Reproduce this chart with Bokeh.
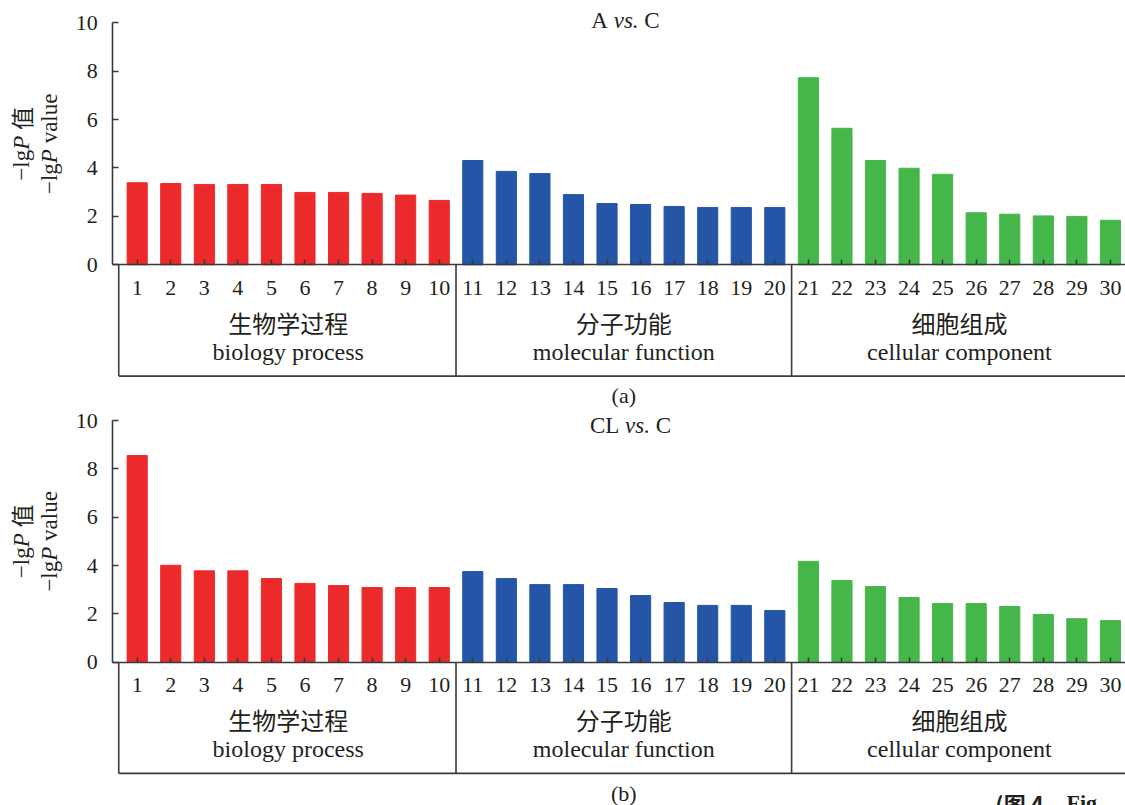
import math
from bokeh.plotting import figure
from bokeh.models import LinearAxis, FixedTicker, Range1d, Label, ColumnDataSource
from bokeh.layouts import column
from bokeh.embed import file_html
from bokeh.resources import INLINE

# ---------------- data ----------------
go_ids = [1, 2, 3, 4, 5, 6, 7, 8, 9, 10,
          11, 12, 13, 14, 15, 16, 17, 18, 19, 20,
          21, 22, 23, 24, 25, 26, 27, 28, 29, 30]
group_en = ["biology process", "molecular function", "cellular component"]
group_cn = ["生物学过程", "分子功能", "细胞组成"]
group_size = [10, 10, 10]
group_colors = ["#EC2A2B", "#2455A6", "#45B649"]

a_vs_c = [3.39, 3.36, 3.32, 3.32, 3.32, 2.99, 2.99, 2.95, 2.88, 2.66,
          4.31, 3.86, 3.77, 2.90, 2.53, 2.49, 2.41, 2.37, 2.37, 2.37,
          7.73, 5.64, 4.31, 3.99, 3.74, 2.15, 2.09, 2.02, 2.00, 1.84]
cl_vs_c = [8.55, 4.01, 3.78, 3.78, 3.46, 3.26, 3.17, 3.09, 3.09, 3.09,
           3.75, 3.46, 3.21, 3.21, 3.05, 2.76, 2.47, 2.35, 2.35, 2.14,
           4.17, 3.38, 3.13, 2.68, 2.43, 2.43, 2.30, 1.97, 1.80, 1.72]
y_ticks = [0, 2, 4, 6, 8, 10]

# ---------------- style ----------------
SERIF = "Liberation Serif"
CJK = "Noto Sans CJK SC"
INK = "#231F20"
LINE = "#3A3A3A"
BOX_BOTTOM = -4.6
X_RANGE = (-3.073, 30.449)
Y_AXIS_AT = 0.273

REG = {"A": 722, "C": 667, "L": 611, " ": 250, "v": 500, "s": 389, ".": 250,
       "\u2212": 564, "l": 278, "g": 500, "P": 556, "a": 444, "u": 500, "e": 444}
ITA = {"v": 444, "s": 389, ".": 250, "P": 611, " ": 250}


def text_w(t, style, size):
    w = 0.0
    for ch in t:
        if ord(ch) > 0x2E80:
            w += size
        else:
            table = ITA if style == "italic" else REG
            w += table.get(ch, 500) * size / 1000.0
    return w


def add_pieces(p, x, y, pieces, size, vertical=False):
    total = sum(text_w(t, s, size) for t, f, s in pieces)
    off = -total / 2.0
    for t, f, s in pieces:
        lead = len(t) - len(t.lstrip(" "))
        shown = t.strip(" ")
        o = off + text_w(" " * lead, s, size)
        kw = dict(x=x, y=y, text=shown, text_font=f, text_font_style=s,
                  text_font_size=f"{size}px", text_align="left",
                  text_baseline="middle", text_color=INK)
        if vertical:
            kw.update(angle=math.pi / 2, y_offset=o)
        else:
            kw.update(x_offset=o)
        p.add_layout(Label(**kw))
        off += text_w(t, s, size)


def make_panel(vals, title_pieces, title_x, title_y, sub, sub_y, height, y_lo, y_hi):
    p = figure(width=1125, height=height,
               x_range=Range1d(*X_RANGE), y_range=Range1d(y_lo, y_hi),
               output_backend="svg", toolbar_location=None,
               x_axis_type=None, y_axis_type=None,
               min_border_left=0, min_border_right=0,
               min_border_top=0, min_border_bottom=0)
    p.outline_line_color = None
    p.background_fill_color = "white"

    colors = []
    for c, n in zip(group_colors, group_size):
        colors += [c] * n
    src = ColumnDataSource(dict(x=go_ids, top=vals, color=colors))
    p.vbar(x="x", top="top", width=0.6, color="color", source=src)

    yax = LinearAxis(fixed_location=Y_AXIS_AT, bounds=(0, 10),
                     ticker=FixedTicker(ticks=y_ticks),
                     major_tick_in=6, major_tick_out=0,
                     minor_tick_line_color=None,
                     axis_line_color=LINE, axis_line_width=1.6,
                     major_tick_line_color=LINE, major_tick_line_width=1.6,
                     major_label_text_font=SERIF, major_label_text_font_size="22px",
                     major_label_text_color=INK, major_label_standoff=15)
    p.add_layout(yax, "left")

    xax = LinearAxis(fixed_location=0, bounds=(Y_AXIS_AT, X_RANGE[1]),
                     ticker=FixedTicker(ticks=go_ids),
                     major_tick_in=5, major_tick_out=0,
                     minor_tick_line_color=None,
                     axis_line_color=LINE, axis_line_width=1.6,
                     major_tick_line_color=LINE, major_tick_line_width=1.6,
                     major_label_text_font=SERIF, major_label_text_font_size="22px",
                     major_label_text_color=INK, major_label_standoff=16)
    p.add_layout(xax, "below")

    # category boxes
    edges = [go_ids[0] - 0.55]
    idx = 0
    centers = []
    for n in group_size:
        lo_id = go_ids[idx]
        hi_id = go_ids[idx + n - 1]
        centers.append((lo_id + hi_id) / 2.0)
        idx += n
        edges.append(hi_id + 0.5)
    vx = edges[:-1]
    p.segment(x0=vx, y0=[0] * len(vx), x1=vx, y1=[BOX_BOTTOM] * len(vx),
              line_color=LINE, line_width=1.6)
    p.segment(x0=[edges[0]], y0=[BOX_BOTTOM], x1=[go_ids[-1] + 1.5], y1=[BOX_BOTTOM],
              line_color=LINE, line_width=1.6)
    for cx, cn, en in zip(centers, group_cn, group_en):
        p.add_layout(Label(x=cx, y=-2.37, text=cn, text_font=CJK, text_font_size="24px",
                           text_align="center", text_baseline="middle", text_color=INK))
        p.add_layout(Label(x=cx, y=-3.6, text=en, text_font=SERIF, text_font_size="24px",
                           text_align="center", text_baseline="alphabetic", text_color=INK))

    # title
    add_pieces(p, title_x, title_y, title_pieces, 23)
    # sub-panel tag
    p.add_layout(Label(x=15.5, y=sub_y, text=sub, text_font=SERIF, text_font_size="22px",
                       text_align="center", text_baseline="middle", text_color=INK))
    # y label (two rotated lines)
    add_pieces(p, -2.45, 5.0, [("\u2212lg", SERIF, "normal"), ("P", SERIF, "italic"),
                               (" 值", CJK, "normal")], 23, vertical=True)
    add_pieces(p, -1.62, 5.0, [("\u2212lg", SERIF, "normal"), ("P", SERIF, "italic"),
                               (" value", SERIF, "normal")], 23, vertical=True)
    return p


p1 = make_panel(a_vs_c,
                [("A ", SERIF, "normal"), ("vs.", SERIF, "italic"), (" C", SERIF, "normal")],
                15.55, 10.095, "(a)", -5.4, 408, -5.938, 10.921)
p2 = make_panel(cl_vs_c,
                [("CL ", SERIF, "normal"), ("vs.", SERIF, "italic"), (" C", SERIF, "normal")],
                15.7, 9.79, "(b)", -5.44, 397, -5.929, 10.497)

# caption fragment cut by the lower edge of the page
p2.add_layout(Label(x=26.57, y=-5.82, text="(图 4", text_font=CJK, text_font_style="bold",
                    text_font_size="22px", text_align="left", text_baseline="alphabetic",
                    text_color=INK))
p2.add_layout(Label(x=28.69, y=-5.82, text="Fig", text_font=SERIF, text_font_style="bold",
                    text_font_size="22px", text_align="left", text_baseline="alphabetic",
                    text_color=INK))

layout = column(p1, p2)
open("out.html", "w").write(file_html(layout, INLINE))
